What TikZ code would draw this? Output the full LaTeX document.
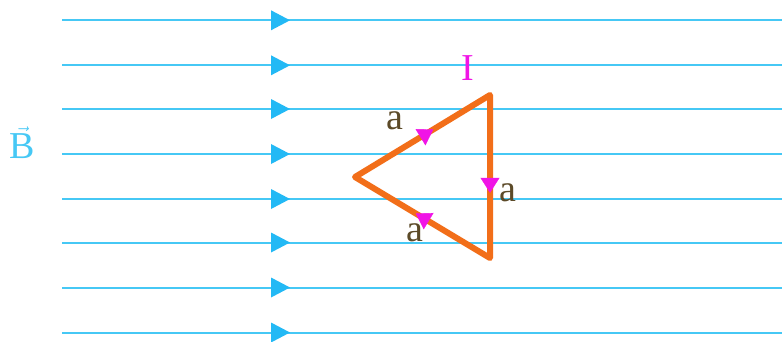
\documentclass[tikz,border=0pt]{standalone}
\usepackage{fontspec}
\setmainfont{Liberation Serif}
\usetikzlibrary{arrows.meta,decorations.markings}
\definecolor{fieldc}{RGB}{70,200,245}
\definecolor{fieldtip}{RGB}{35,185,245}
\definecolor{wirec}{RGB}{242,110,25}
\definecolor{curc}{RGB}{240,20,230}
\definecolor{labc}{RGB}{92,74,40}
\tikzset{
  x=1pt,y=-1pt,
  fieldline/.style={draw=fieldc,line width=2pt},
  fieldtipshape/.style={fill=fieldtip},
  wire/.style={draw=wirec,line width=6pt,line join=round},
  curarrow/.style={decoration={markings,mark=at position #1 with {\arrow{Triangle[length=15pt,width=19pt]}}},postaction={decorate},draw=none,fill=none,color=curc},
  lab/.style={text=labc,font=\fontsize{38}{42}\selectfont,inner sep=0pt},
}
\begin{document}
\begin{tikzpicture}
\useasboundingbox (0,0) rectangle (782,341);
\fill[white] (0,0) rectangle (782,341);
% field lines
\foreach \i/\yy in {1/20.3,2/65.3,3/109,4/154,5/199,6/242.5,7/287.5,8/332.5}{
  \coordinate (s\i) at (62,\yy);
  \coordinate (e\i) at (782,\yy);
  \draw[fieldline] (s\i) -- (e\i);
  \fill[fieldtipshape] (271,\yy-10) -- (290,\yy) -- (271,\yy+10) -- cycle;
}
\node[text=fieldc,font=\fontsize{38}{42}\selectfont,inner sep=0pt] (B) at (22,143) {$\vec{\hbox{B}}$};
% loop
\coordinate (L) at (355,177);
\coordinate (T) at (490,95);
\coordinate (R) at (490,258);
\draw[wire] (L) -- (T) -- (R) -- cycle;
\path[curarrow=0.58] (L) -- (T);
\path[curarrow=0.6] (T) -- (R);
\path[curarrow=0.55] (R) -- (L);
\node[lab] (a1) at (395,121) {a};
\node[lab] (a2) at (508,193) {a};
\node[lab] (a3) at (415,233) {a};
\node[text=curc,font=\fontsize{38}{42}\selectfont,inner sep=0pt] (I) at (468,68) {I};
\end{tikzpicture}
\end{document}
